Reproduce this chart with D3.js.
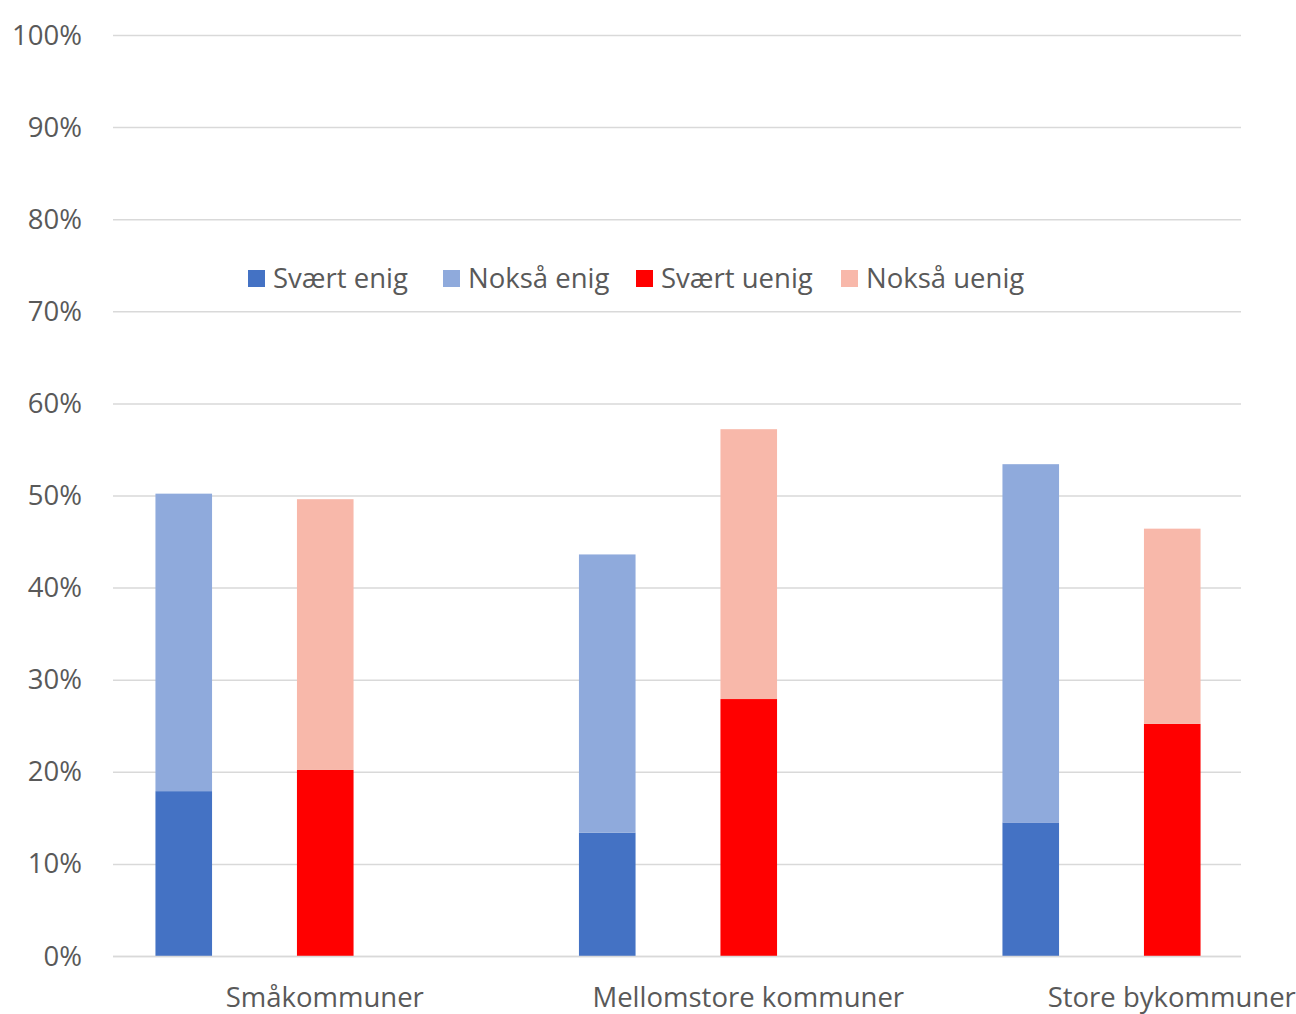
<!DOCTYPE html>
<html><head><meta charset="utf-8">
<script src="https://cdn.jsdelivr.net/npm/d3@7"></script>
<style>body{margin:0;background:#fff;} text{font-family:"Open Sans", Lato, sans-serif;}</style>
</head><body>
<svg id="c" width="1296" height="1014"></svg>
<script>
const categories = ["Småkommuner", "Mellomstore kommuner", "Store bykommuner"];
const seriesNames = ["Svært enig", "Nokså enig", "Svært uenig", "Nokså uenig"];
const svaertEnig = [17.9, 13.4, 14.5];
const noksaEnig = [32.3, 30.2, 38.9];
const svaertUenig = [20.2, 27.9, 25.2];
const noksaUenig = [29.4, 29.3, 21.2];
const yTicks = [0, 10, 20, 30, 40, 50, 60, 70, 80, 90, 100];
const colors = ["#4472C4", "#8FAADC", "#FF0000", "#F8B8AA"];

(function () {
const svg = d3.select("#c");
const pLeft = 113, pRight = 1241, pTop = 35, pBottom = 956;
const y = d3.scaleLinear().domain([0, 100]).range([pBottom, pTop]);
const x = d3.scaleBand().domain(categories).range([pLeft, pLeft + 3 * 423.5]);
const sub = d3.scaleBand().domain(["enig", "uenig"]).range([0, 283]).paddingInner(0.6).paddingOuter(0.3);

svg.append("g").selectAll("line").data(yTicks).join("line")
  .attr("x1", pLeft).attr("x2", pRight)
  .attr("y1", d => y(d) + 0.5).attr("y2", d => y(d) + 0.5)
  .attr("stroke", "#D9D9D9").attr("stroke-width", 1.5);

svg.append("g").selectAll("text").data(yTicks).join("text")
  .attr("x", 82).attr("y", d => y(d) + 9.5)
  .attr("text-anchor", "end").attr("font-size", 27.5).attr("fill", "#595959")
  .text(d => d + "%");

const stacks = [
  {grp: "enig", parts: [[svaertEnig, 0], [noksaEnig, 1]]},
  {grp: "uenig", parts: [[svaertUenig, 2], [noksaUenig, 3]]}
];
const g = svg.append("g");
categories.forEach((c, i) => {
  stacks.forEach(s => {
    let base = 0;
    s.parts.forEach(([arr, ci]) => {
      const v = arr[i];
      g.append("rect")
        .attr("x", x(c) + sub(s.grp))
        .attr("width", sub.bandwidth())
        .attr("y", y(base + v))
        .attr("height", y(base) - y(base + v))
        .attr("fill", colors[ci]);
      base += v;
    });
  });
});

svg.append("line").attr("x1", pLeft).attr("x2", pRight)
  .attr("y1", pBottom + 0.5).attr("y2", pBottom + 0.5)
  .attr("stroke", "#D9D9D9").attr("stroke-width", 1.5);

svg.append("g").selectAll("text").data(categories).join("text")
  .attr("x", d => x(d) + x.bandwidth() / 2).attr("y", 1007)
  .attr("text-anchor", "middle").attr("font-size", 27.5).attr("fill", "#595959")
  .text(d => d);

const legX = [248, 443, 636, 841];
const leg = svg.append("g");
seriesNames.forEach((n, i) => {
  leg.append("rect").attr("x", legX[i]).attr("y", 270).attr("width", 17).attr("height", 17).attr("fill", colors[i]);
  leg.append("text").attr("x", legX[i] + 25).attr("y", 288).attr("font-size", 27.5).attr("fill", "#595959").text(n);
});
})();
</script>
</body></html>
